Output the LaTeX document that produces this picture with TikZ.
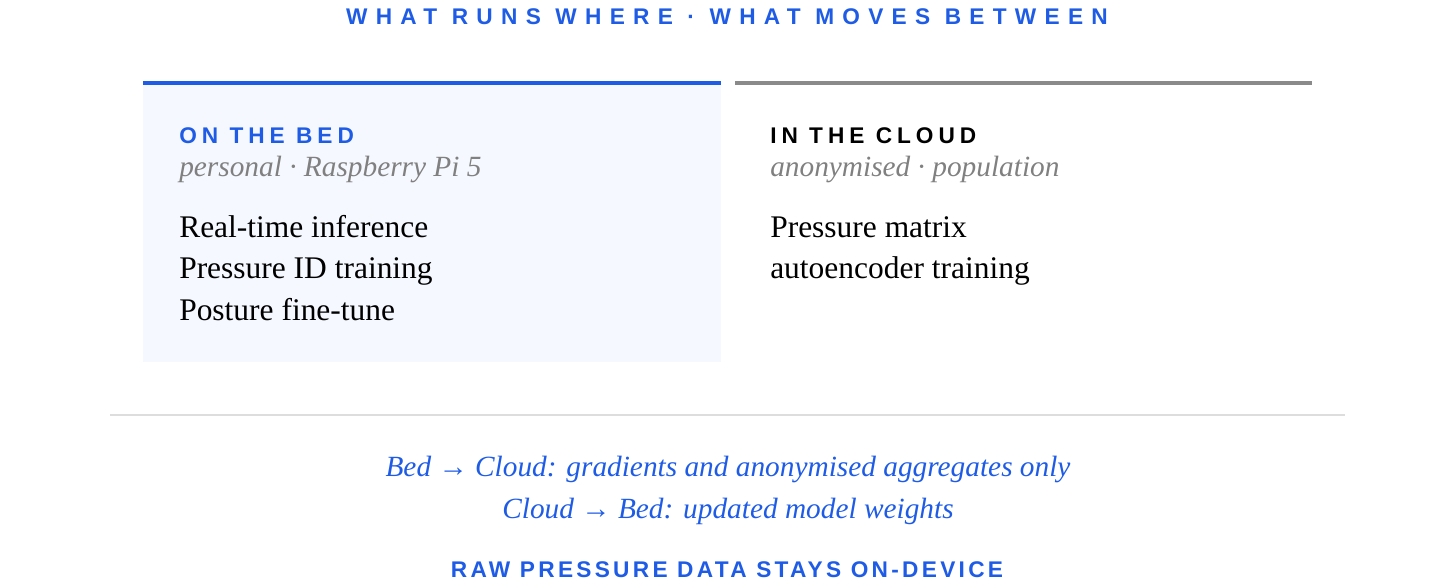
\documentclass[tikz,border=0pt]{standalone}
\usepackage{fontspec}
\setmainfont{Liberation Serif}
\newfontfamily\headfont[LetterSpace=22]{Liberation Sans}
\newfontfamily\titlefont[LetterSpace=36.5]{Liberation Sans}
\newfontfamily\notefont[LetterSpace=14.5]{Liberation Sans}
\usetikzlibrary{calc}
\definecolor{accent}{HTML}{1F5CE6}
\definecolor{paneltint}{HTML}{F5F8FE}
\definecolor{mutegray}{HTML}{808080}
\definecolor{rulegray}{HTML}{8A8A8A}
\definecolor{sepgray}{HTML}{DDDDDD}
\tikzset{
    caps/.style={font=\headfont\bfseries\fontsize{17}{20}\selectfont, inner sep=0pt},
    sub/.style={font=\itshape\fontsize{22}{26}\selectfont, text=mutegray, anchor=base west, inner sep=0pt},
    item/.style={font=\fontsize{23.6}{28}\selectfont, anchor=base west, inner sep=0pt},
    flow/.style={font=\itshape\fontsize{22}{26}\selectfont, text=accent, anchor=base, inner sep=0pt}
}

\begin{document}
\begin{tikzpicture}[x=0.75pt,y=-0.75pt]
    \useasboundingbox (0,0) rectangle (1456,581);

    \node[caps, font=\titlefont\bfseries\fontsize{17}{20}\selectfont, text=accent, anchor=base] (title) at (727,25) {WHAT RUNS WHERE · WHAT MOVES BETWEEN};

    \fill[paneltint] (143,82) rectangle (721,362);
    \coordinate (bedL) at (143,83);
    \coordinate (bedR) at (721,83);
    \coordinate (cloudL) at (735,83);
    \coordinate (cloudR) at (1312,83);
    \draw[accent, line width=3pt] (bedL) -- (bedR);
    \draw[rulegray, line width=3pt] (cloudL) -- (cloudR);

    \node[caps, text=accent, anchor=base west] (bed) at (179,144) {ON THE BED};
    \node[sub] (bedsub) at (179,176) {personal · Raspberry Pi 5};
    \node[item] (bed1) at (179,237) {Real-time inference};
    \node[item] (bed2) at (179,278) {Pressure ID training};
    \node[item] (bed3) at (179,320) {Posture fine-tune};

    \node[caps, text=black, anchor=base west] (cloud) at (770,144) {IN THE CLOUD};
    \node[sub] (cloudsub) at (770,176) {anonymised · population};
    \node[item] (cloud1) at (770,237) {Pressure matrix};
    \node[item] (cloud2) at (770,278) {autoencoder training};

    \coordinate (sepL) at (110,415);
    \coordinate (sepR) at (1345,415);
    \draw[sepgray, line width=1.2pt] (sepL) -- (sepR);

    \node[flow] (up) at (728,476) {Bed → Cloud: gradients and anonymised aggregates only};
    \node[flow] (down) at (728,518) {Cloud → Bed: updated model weights};

    \node[caps, font=\notefont\bfseries\fontsize{17}{20}\selectfont, text=accent, anchor=base] (raw) at (727,577) {RAW PRESSURE DATA STAYS ON-DEVICE};
\end{tikzpicture}
\end{document}
